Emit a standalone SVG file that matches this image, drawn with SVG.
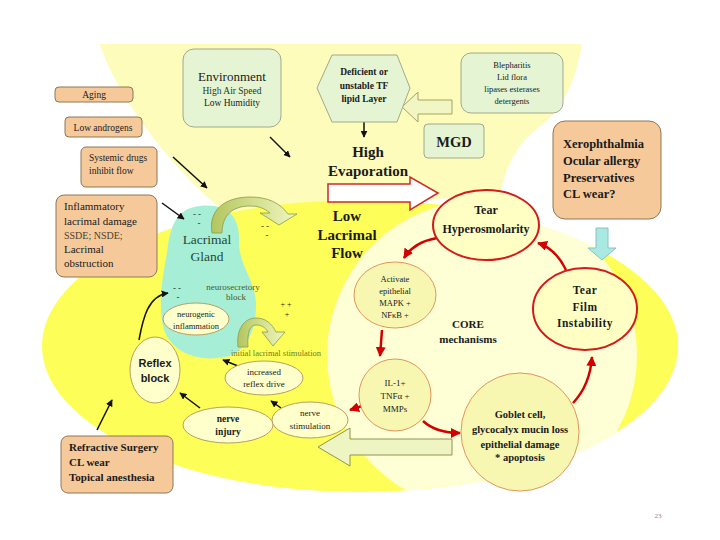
<svg xmlns="http://www.w3.org/2000/svg" width="720" height="540" viewBox="0 0 720 540">
<style>
text{font-family:"Liberation Serif","Times New Roman",serif;fill:#1a1a1a;text-anchor:middle}
.b{font-weight:bold}
.l{text-anchor:start}
.sans{font-family:"Liberation Sans",Arial,sans-serif}
.obox{fill:#F6C99A;stroke:#8E7656;stroke-width:1}
.gbox{fill:#E5F5D3;stroke:#A2A88C;stroke-width:1}
.red{fill:#FFFFC4;stroke:#D41A1A;stroke-width:2}
.core{fill:#F8F7B2;stroke:#E2955A;stroke-width:1}
.small{fill:#FFFFCC;stroke:#B89E62;stroke-width:1}
.blk{stroke:#111;stroke-width:1.5;fill:none;marker-end:url(#ab)}
.rd{stroke:#D40000;stroke-width:2.5;fill:none;marker-end:url(#ar)}
</style>
<defs>
<marker id="ab" viewBox="0 0 10 10" refX="9" refY="5" markerWidth="7" markerHeight="7" markerUnits="userSpaceOnUse" orient="auto"><path d="M0,0 L10,5 L0,10 Z" fill="#111"/></marker>
<marker id="ar" viewBox="0 0 10 10" refX="9" refY="5" markerWidth="10" markerHeight="10" markerUnits="userSpaceOnUse" orient="auto"><path d="M0,0 L10,5 L0,10 Z" fill="#D40000"/></marker>
<linearGradient id="ga" x1="0" y1="0" x2="1" y2="0"><stop offset="0" stop-color="#B3C55E"/><stop offset="0.5" stop-color="#D2DF8E"/><stop offset="1" stop-color="#F0F5C0"/></linearGradient>
<clipPath id="bigc"><ellipse cx="360" cy="346" rx="318" ry="146"/></clipPath>
</defs>

<g id="background">
<path d="M100,44 L582,44 C575,85 560,112 538,128 C515,145 505,170 500,195 L225,212 C160,160 110,80 100,44 Z" fill="#FDFCBA"/>
<ellipse cx="360" cy="346" rx="318" ry="146" fill="#FEFE58"/>
<circle cx="482" cy="355" r="155" fill="#FFFFD6" clip-path="url(#bigc)"/>
<path d="M200,206 C225,203 240,215 239,240 C238,265 256,280 256,305 C256,332 246,352 225,357 C195,363 165,350 162,320 C158,290 165,270 168,245 C172,220 180,208 200,206 Z" fill="#A6EFD6"/>
</g>

<g id="connectors">
<path class="blk" d="M270,137 L290,157"/>
<path class="blk" d="M173,157 L207,188"/>
<path class="blk" d="M162,203 L184,219"/>
<path class="blk" d="M364,120 L364,137"/>
<path class="blk" d="M139,340 C143,318 148,296 168,293"/>
<path class="blk" d="M97,430 L112,400"/>
<path class="blk" d="M200,408 L180,393"/>
<path class="blk" d="M238,366 L223,360"/>
<path class="blk" d="M281,408 L271,401"/>
<path class="rd" d="M437,238 Q414,242 404,258"/>
<path class="rd" d="M382,330 L380,356"/>
<path class="rd" d="M368,404 L350,410"/>
<path class="rd" d="M423,421 Q436,433 460,433"/>
<path class="rd" d="M573,403 Q590,385 592,357"/>
<path class="rd" d="M566,270 Q556,249 538,243"/>
<polygon points="328,184 410,184 410,177 438,193 410,210 410,202 328,202" fill="#FFFFFF" stroke="#D02828" stroke-width="1.5"/>
<polygon points="402,107 418,92 418,100 452,100 452,114 418,114 418,122" fill="#F1F6C4" stroke="#A3A55A" stroke-width="1"/>
<polygon points="318,447 350,428 350,439 452,439 452,455 350,455 350,466" fill="#EEF5C2" stroke="#8E9452" stroke-width="1"/>
<polygon points="596,228 608,228 608,248 616,248 602,260 588,248 596,248" fill="#A9E9E2" stroke="#86C4C4" stroke-width="1"/>
<path d="M212,233 C208,210 225,197 250,197 C268,197 280,203 288,214 L297,214 L279,225 L260,213 L270,213 C264,208 258,206 250,206 C233,206 222,215 222,233 Z" fill="url(#ga)" stroke="#8A9A48" stroke-width="0.8"/>
<path d="M238,347 C236,328 245,318 256,318 C266,318 272,324 276,332 L285,332 L273,346 L262,332 L268,332 C265,327 261,325 256,325 C250,325 247,332 248,347 Z" fill="url(#ga)" stroke="#8A9A48" stroke-width="0.8"/>
</g>

<g id="aging"><rect class="obox" x="55" y="87" width="78" height="15" rx="4"/><text x="94" y="98" font-size="9.5">Aging</text></g>
<g id="androgens"><rect class="obox" x="65" y="117" width="77" height="20" rx="4"/><text x="103" y="130.5" font-size="9.5">Low androgens</text></g>
<g id="systemic"><rect class="obox" x="81" y="147" width="76" height="40" rx="5"/><text class="l" x="89" y="161" font-size="9.5">Systemic drugs</text><text class="l" x="89" y="174" font-size="9.5">inhibit flow</text></g>
<g id="inflammatory"><rect class="obox" x="56" y="195" width="101" height="82" rx="8"/>
<text class="l" x="64" y="210" font-size="11">Inflammatory</text>
<text class="l" x="64" y="225" font-size="11">lacrimal damage</text>
<text class="l" x="64" y="239" font-size="10" style="fill:#4a4030">SSDE; NSDE;</text>
<text class="l" x="64" y="253" font-size="11">Lacrimal</text>
<text class="l" x="64" y="267" font-size="11">obstruction</text></g>
<g id="refractive"><rect class="obox" x="61" y="436" width="112" height="57" rx="7"/>
<text class="l b" x="69" y="451" font-size="11">Refractive Surgery</text>
<text class="l b" x="69" y="466" font-size="11">CL wear</text>
<text class="l b" x="69" y="481" font-size="11">Topical anesthesia</text></g>
<g id="xerophthalmia"><rect class="obox" x="553" y="121" width="108" height="98" rx="12"/>
<text class="l b" x="563" y="148" font-size="12.5">Xerophthalmia</text>
<text class="l b" x="563" y="165" font-size="12.5">Ocular allergy</text>
<text class="l b" x="563" y="182" font-size="12.5">Preservatives</text>
<text class="l b" x="563" y="198" font-size="12.5">CL wear?</text></g>

<g id="environment"><rect class="gbox" x="183" y="49" width="98" height="78" rx="11"/>
<text x="232" y="81" font-size="13">Environment</text>
<text x="232" y="94" font-size="9.5" style="fill:#1e3a1e">High Air Speed</text>
<text x="232" y="106" font-size="9.5">Low Humidity</text></g>
<g id="lipid"><polygon class="gbox" points="317,88 332,55 397,55 410,88 397,122 332,122"/>
<text class="b" x="364" y="75" font-size="9.5">Deficient or</text>
<text class="b" x="364" y="89" font-size="9.5">unstable TF</text>
<text class="b" x="364" y="102" font-size="9.5">lipid Layer</text></g>
<g id="blepharitis"><rect class="gbox" x="461" y="53" width="102" height="60" rx="10"/>
<text x="512" y="68" font-size="8.5">Blepharitis</text>
<text x="512" y="80" font-size="8.5">Lid flora</text>
<text x="512" y="92" font-size="8.5">lipases esterases</text>
<text x="512" y="104" font-size="8.5">detergents</text></g>
<g id="mgd"><rect class="gbox" x="424" y="124" width="60" height="34" rx="4"/><text class="b" x="454" y="147" font-size="14.5">MGD</text></g>

<g id="evaporation"><text class="b" x="368" y="157" font-size="15">High</text><text class="b" x="368" y="176" font-size="15">Evaporation</text></g>
<g id="lowflow"><text class="b" x="347" y="221" font-size="15">Low</text><text class="b" x="347" y="240" font-size="15">Lacrimal</text><text class="b" x="347" y="258" font-size="15">Flow</text></g>

<g id="hyperosmolarity"><ellipse class="red" cx="486" cy="225" rx="53" ry="35"/>
<text class="b" x="486" y="214" font-size="12">Tear</text><text class="b" x="486" y="233" font-size="12">Hyperosmolarity</text></g>
<g id="instability"><ellipse class="red" cx="585" cy="309" rx="52" ry="41"/>
<text class="b" x="585" y="294" font-size="11.5" letter-spacing="0.5">Tear</text>
<text class="b" x="585" y="311" font-size="11.5" letter-spacing="0.5">Film</text>
<text class="b" x="585" y="327" font-size="11.5" letter-spacing="0.5">Instability</text></g>
<g id="activate"><ellipse class="core" cx="395" cy="295" rx="41" ry="33"/>
<text x="395" y="282" font-size="8.5">Activate</text>
<text x="395" y="294" font-size="8.5">epithelial</text>
<text x="395" y="306" font-size="8.5">MAPK +</text>
<text x="395" y="318" font-size="8.5">NFκB +</text></g>
<g id="core-label"><text class="b" x="468" y="328" font-size="11">CORE</text><text class="b" x="468" y="343" font-size="11">mechanisms</text></g>
<g id="cytokines"><circle class="core" cx="395" cy="395" r="36"/>
<text x="395" y="386" font-size="9">IL-1+</text>
<text x="395" y="399" font-size="9">TNFα +</text>
<text x="395" y="412" font-size="9">MMPs</text></g>
<g id="goblet"><circle class="core" cx="520" cy="432" r="59"/>
<text class="b" x="520" y="418" font-size="10.5">Goblet cell,</text>
<text class="b" x="520" y="433" font-size="10.5">glycocalyx mucin loss</text>
<text class="b" x="520" y="448" font-size="10.5">epithelial damage</text>
<text class="b" x="520" y="461" font-size="10.5">* apoptosis</text></g>

<g id="lacrimal-gland"><text x="207" y="244" font-size="13.5" style="fill:#24483a">Lacrimal</text><text x="207" y="261" font-size="13.5" style="fill:#24483a">Gland</text>
<text x="197" y="217" font-size="9">- -</text><text x="199" y="226" font-size="9">-</text>
<text x="265" y="229" font-size="9">- -</text><text x="267" y="238" font-size="9">-</text>
<text x="177" y="291" font-size="9">- -</text><text x="178" y="300" font-size="9">-</text>
<text x="286" y="307" font-size="8">+ +</text><text x="287" y="317" font-size="8">+</text>
<text x="233" y="290" font-size="9" style="fill:#4e5a28">neurosecretory</text><text x="236" y="300" font-size="9" style="fill:#4e5a28">block</text></g>
<g id="neurogenic"><ellipse class="small" cx="196" cy="319" rx="33" ry="16"/><text x="196" y="317" font-size="8.5">neurogenic</text><text x="196" y="329" font-size="8.5">inflammation</text></g>
<g id="reflex-block"><ellipse class="small" cx="155" cy="370" rx="25" ry="33"/><text class="b sans" x="155" y="367" font-size="11">Reflex</text><text class="b sans" x="155" y="382" font-size="11">block</text></g>
<g id="initial"><text x="276" y="356" font-size="8.5" style="fill:#6E7E1E">initial lacrimal stimulation</text></g>
<g id="reflex-drive"><ellipse class="small" cx="264" cy="378" rx="39" ry="17"/><text x="264" y="375" font-size="9">increased</text><text x="264" y="387" font-size="9">reflex drive</text></g>
<g id="nerve-injury"><ellipse class="small" cx="228" cy="425" rx="45" ry="18"/><text class="b" x="228" y="422" font-size="9.5">nerve</text><text class="b" x="228" y="435" font-size="9.5">injury</text></g>
<g id="nerve-stimulation"><ellipse class="small" cx="310" cy="420" rx="38" ry="18"/><text x="310" y="416" font-size="9">nerve</text><text x="310" y="429" font-size="9">stimulation</text></g>
<text x="658" y="518" font-size="7" style="fill:#888">23</text>
</svg>
